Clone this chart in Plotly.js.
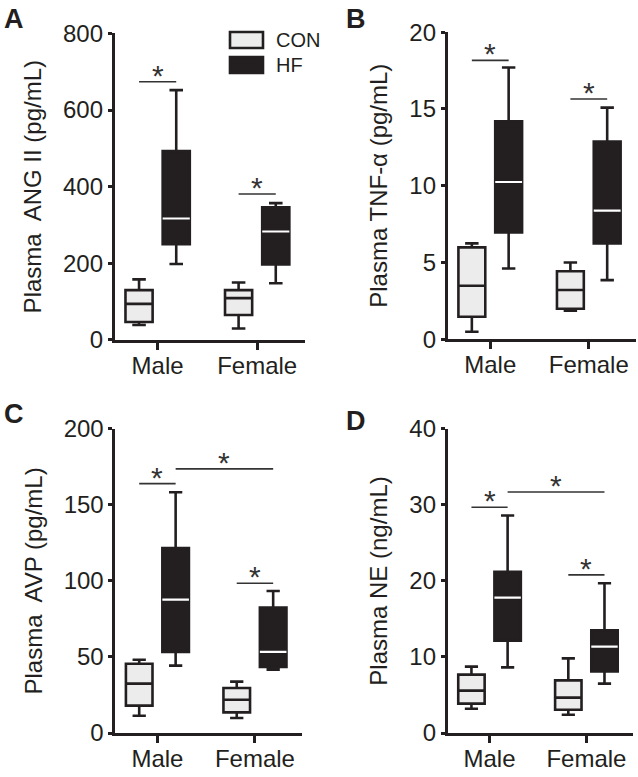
<!DOCTYPE html>
<html>
<head>
<meta charset="utf-8">
<script src="https://cdn.plot.ly/plotly-3.0.1.min.js"></script>
<style>body{margin:0;background:#fff}</style>
</head>
<body>
<div id="myDiv" style="width:638px;height:777px"></div>
<script>
var groups = ['Male', 'Female'];

// box stats per group: lower whisker, q1, median, q3, upper whisker
var angCon = {lo: [39, 30], q1: [47, 65], med: [94, 109], q3: [130, 130], hi: [158, 150]};
var angHf = {lo: [198, 148], q1: [250, 197], med: [317, 283], q3: [493, 346], hi: [652, 357]};
var angSig = [674, 381];

var tnfCon = {lo: [0.48, 1.85], q1: [1.46, 1.98], med: [3.48, 3.2], q3: [5.98, 4.43], hi: [6.24, 5.0]};
var tnfHf = {lo: [4.6, 3.85], q1: [6.96, 6.24], med: [10.24, 8.37], q3: [14.2, 12.87], hi: [17.7, 15.09]};
var tnfSig = [18.17, 15.65];

var avpCon = {lo: [11.4, 9.9], q1: [18, 13.6], med: [32.5, 21.9], q3: [45.6, 29.6], hi: [48.2, 33.8]};
var avpHf = {lo: [44.3, 41.7], q1: [53.3, 43.4], med: [87.7, 53.3], q3: [121.7, 82.5], hi: [158.3, 93.4]};
var avpSig = [164, 98.5];
var avpCross = 173.7;

var neCon = {lo: [3.2, 2.41], q1: [3.86, 3.07], med: [5.57, 4.65], q3: [7.68, 6.93], hi: [8.73, 9.82]};
var neHf = {lo: [8.64, 6.49], q1: [12.15, 8.11], med: [17.8, 11.36], q3: [21.2, 13.5], hi: [28.6, 19.7]};
var neSig = [29.7, 20.8];
var neCross = 31.7;

var ink = '#231f20';
var conFill = '#ececec';
var font = 'Arial, "Liberation Sans", sans-serif';
var boxgap = 0.253;
var off = (1 - boxgap) / 4;

var panels = [
  {letter: 'A', title: 'Plasma\u00a0 ANG II (pg/mL)', range: [0, 800], dtick: 200,
   con: angCon, hf: angHf, sig: angSig, cross: null, xd: [0.180, 0.478], yd: [0.5625, 0.957], lx: 0.003, ly: 0.997},
  {letter: 'B', title: 'Plasma TNF-\u03b1 (pg/mL)', range: [0, 20], dtick: 5,
   con: tnfCon, hf: tnfHf, sig: tnfSig, cross: null, xd: [0.702, 0.997], yd: [0.5635, 0.9585], lx: 0.539, ly: 0.997},
  {letter: 'C', title: 'Plasma\u00a0 AVP (pg/mL)', range: [0, 200], dtick: 50,
   con: avpCon, hf: avpHf, sig: avpSig, cross: avpCross, xd: [0.181, 0.473], yd: [0.0566, 0.448], lx: 0.003, ly: 0.489},
  {letter: 'D', title: 'Plasma NE (ng/mL)', range: [0, 40], dtick: 10,
   con: neCon, hf: neHf, sig: neSig, cross: neCross, xd: [0.702, 0.992], yd: [0.0566, 0.448], lx: 0.539, ly: 0.48}
];

var data = [];
var shapes = [];
var annotations = [];
var layout = {
  width: 638, height: 777,
  margin: {l: 0, r: 0, t: 0, b: 0},
  paper_bgcolor: '#fff', plot_bgcolor: 'rgba(0,0,0,0)',
  font: {family: font, color: ink},
  boxmode: 'group', boxgap: boxgap, boxgroupgap: 0.27,
  showlegend: false
};

function boxTrace(s, name, fill, xa, ya, n) {
  return {
    type: 'box', x: groups, name: name,
    q1: s.q1, median: s.med, q3: s.q3, lowerfence: s.lo, upperfence: s.hi,
    offsetgroup: name, alignmentgroup: 'g' + n,
    xaxis: xa, yaxis: ya,
    fillcolor: fill, line: {color: ink, width: 2.6},
    whiskerwidth: 0.5, boxpoints: false, hoverinfo: 'y'
  };
}

panels.forEach(function (p, n) {
  var k = n === 0 ? '' : String(n + 1);
  var xa = 'x' + k, ya = 'y' + k;

  data.push(boxTrace(p.con, 'CON', conFill, xa, ya, n));
  data.push(boxTrace(p.hf, 'HF', ink, xa, ya, n));
  // white median on the dark boxes
  data.push({
    type: 'box', x: groups, name: 'HF',
    q1: p.hf.med, median: p.hf.med, q3: p.hf.med, lowerfence: p.hf.med, upperfence: p.hf.med,
    offsetgroup: 'HF', alignmentgroup: 'g' + n, xaxis: xa, yaxis: ya,
    fillcolor: '#fff', line: {color: '#fff', width: 2.2},
    showwhiskers: false, boxpoints: false, hoverinfo: 'skip'
  });

  layout['xaxis' + k] = {
    domain: p.xd, anchor: ya, type: 'category', range: [-0.43, 1.48],
    showline: true, linecolor: ink, linewidth: 3,
    ticks: 'outside', ticklen: 7, tickwidth: 3, tickcolor: ink, ticklabelstandoff: -5,
    tickfont: {size: 24, color: ink}, showgrid: false, zeroline: false, fixedrange: true
  };
  layout['yaxis' + k] = {
    domain: p.yd, anchor: xa, range: p.range, dtick: p.dtick,
    showline: true, linecolor: ink, linewidth: 3,
    ticks: 'outside', ticklen: 4, tickwidth: 3, tickcolor: ink,
    tickfont: {size: 24, color: ink}, showgrid: false, zeroline: false, fixedrange: true,
    title: {text: p.title, font: {size: 24, color: ink}, standoff: 15}
  };

  // significance bars
  p.sig.forEach(function (v, i) {
    shapes.push({type: 'line', xref: xa, yref: ya, x0: i - off, x1: i + off, y0: v, y1: v,
      line: {color: '#333', width: 1.6}});
    annotations.push({xref: xa, yref: ya, x: i, y: v, text: '*', showarrow: false,
      yanchor: 'bottom', yshift: -12, font: {size: 30, color: '#333'}});
  });
  if (p.cross !== null) {
    shapes.push({type: 'line', xref: xa, yref: ya, x0: off, x1: 1 + off, y0: p.cross, y1: p.cross,
      line: {color: '#333', width: 1.6}});
    annotations.push({xref: xa, yref: ya, x: 0.5 + off, y: p.cross, text: '*', showarrow: false,
      yanchor: 'bottom', yshift: -12, font: {size: 30, color: '#333'}});
  }

  annotations.push({xref: 'paper', yref: 'paper', x: p.lx, y: p.ly, text: '<b>' + p.letter + '</b>',
    showarrow: false, xanchor: 'left', yanchor: 'top', font: {size: 27, color: ink}});
});

// legend (top of panel A)
var legendItems = [['CON', conFill, 0.9485], ['HF', ink, 0.9163]];
legendItems.forEach(function (it) {
  shapes.push({type: 'rect', xref: 'paper', yref: 'paper', x0: 0.3605, x1: 0.4122,
    y0: it[2] - 0.0103, y1: it[2] + 0.0103, fillcolor: it[1], line: {color: ink, width: 2.6}});
  annotations.push({xref: 'paper', yref: 'paper', x: 0.429, y: it[2], text: it[0], showarrow: false,
    xanchor: 'left', yanchor: 'middle', font: {size: 20, color: ink}});
});

layout.shapes = shapes;
layout.annotations = annotations;

Plotly.newPlot('myDiv', data, layout, {displayModeBar: false, staticPlot: true});
</script>
</body>
</html>
